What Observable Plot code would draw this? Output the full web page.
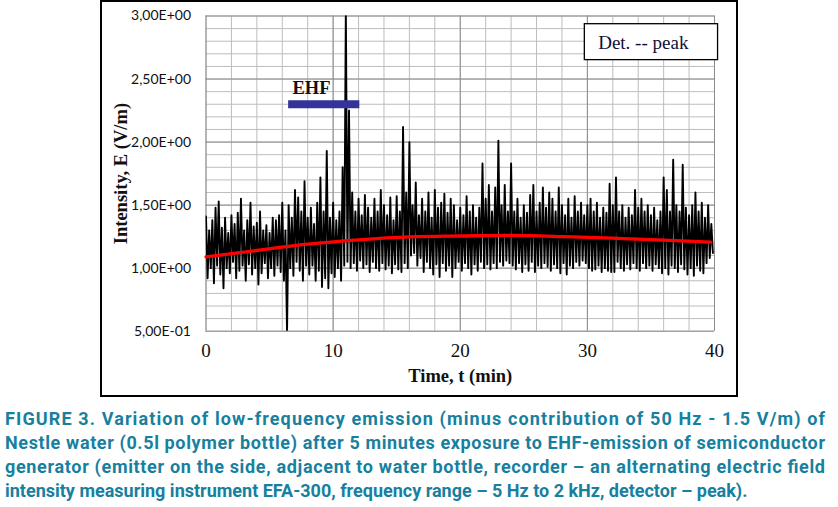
<!DOCTYPE html>
<html><head><meta charset="utf-8">
<script src="https://cdn.jsdelivr.net/npm/d3@7"></script>
<script src="https://cdn.jsdelivr.net/npm/@observablehq/plot@0.6"></script>
<style>
body{margin:0;background:#fff;}
#wrap{position:relative;width:838px;height:507px;}
#frame{position:absolute;left:100px;top:0;width:634px;height:393px;border:2px solid #000;pointer-events:none;}
#cap{position:absolute;left:0;top:400px;}
</style></head><body>
<div id="wrap"><div id="chart"></div><div id="frame"></div><svg id="cap" width="838" height="107"></svg></div>
<script>
// ---- data ----
const timeStep = 0.25; // minutes between samples
// upper excursions of the signal, one per timeStep starting at t=0 (V/m)
const hiValues = [
 1.41,1.30,1.38,1.48,1.53,1.32,1.40,1.28,1.42,1.35,1.44,1.55,1.30,1.38,1.52,1.33,
 1.36,1.45,1.30,1.34,1.28,1.40,1.38,1.42,1.52,1.30,1.50,1.40,1.62,1.56,1.45,1.69,
 1.40,1.48,1.35,1.52,1.72,1.45,1.93,1.40,1.52,1.38,1.45,1.80,3.05,2.25,1.60,1.45,
 1.55,1.42,1.58,1.48,1.40,1.55,1.45,1.62,1.50,1.42,1.56,1.38,1.57,1.45,2.12,1.60,
 2.00,1.50,1.68,1.42,1.55,1.45,1.60,1.40,1.62,1.48,1.52,1.59,1.44,1.55,1.50,1.38,
 1.48,1.42,1.57,1.45,1.50,1.40,1.48,1.83,1.55,1.66,1.45,1.64,2.01,1.50,1.66,1.45,
 1.83,1.45,1.55,1.40,1.50,1.44,1.58,1.66,1.45,1.52,1.64,1.48,1.60,1.55,1.45,1.64,
 1.50,1.42,1.55,1.40,1.57,1.45,1.52,1.42,1.50,1.55,1.45,1.52,1.40,1.48,1.44,1.67,
 1.50,1.72,1.45,1.50,1.40,1.48,1.42,1.62,1.48,1.55,1.45,1.50,1.42,1.48,1.38,1.45,
 1.72,1.62,1.45,1.86,1.50,1.45,1.82,1.48,1.42,1.50,1.60,1.45,1.52,1.40,1.50,1.35
];
// lower excursions, half a step after each upper one (V/m)
const loValues = [
 0.92,1.00,0.88,1.02,0.95,0.84,1.00,0.96,1.05,0.92,0.98,1.02,0.90,1.03,0.95,1.00,
 0.87,0.96,1.04,0.92,1.00,0.94,1.02,0.97,0.90,0.49,1.00,0.94,1.05,0.98,0.90,1.02,
 0.95,1.02,0.90,0.98,0.85,0.92,0.84,0.96,0.93,1.00,0.90,1.02,1.05,1.00,1.04,0.98,
 1.06,1.00,1.03,0.97,1.05,1.00,0.98,1.04,0.99,1.02,0.96,1.03,0.99,0.97,1.04,1.00,
 1.10,1.12,1.02,1.08,0.97,1.05,1.00,0.95,1.03,0.93,1.04,0.98,1.02,0.93,1.00,1.05,
 0.98,1.04,1.00,0.95,1.03,0.98,1.05,1.00,1.03,0.99,1.04,1.00,1.05,1.02,1.06,1.04,
 1.02,0.99,1.04,0.97,1.03,0.98,1.05,0.97,1.02,1.00,1.04,1.01,0.98,1.03,1.00,0.96,
 1.04,0.95,1.02,1.00,1.05,1.02,1.06,1.04,1.00,0.98,0.99,1.02,0.97,1.00,0.98,0.97,
 0.97,1.05,1.00,0.98,1.03,0.99,1.04,1.00,0.98,1.04,1.00,1.02,0.98,1.03,1.00,0.96,
 1.00,0.95,1.02,1.00,0.97,1.03,0.99,0.95,1.00,0.94,1.02,0.98,0.96,1.04,1.08,1.12
];
// red trend line knots
const trendTimes  = [0, 4, 8, 12, 16, 20, 24, 28, 32, 36, 39.7];
const trendValues = [1.09, 1.14, 1.19, 1.225, 1.248, 1.255, 1.26, 1.25, 1.238, 1.222, 1.206];
// EHF exposure bar
const ehfStart = 6.5, ehfEnd = 12.1, ehfLevel = 2.30;
// axis ticks
const xTicks = [0, 10, 20, 30, 40];
const yTicks = [0.5, 1.0, 1.5, 2.0, 2.5, 3.0];

const series = hiValues.flatMap((h, i) => [
  {t: i * timeStep, v: h},
  {t: i * timeStep + timeStep / 2, v: loValues[i]}
]);
const trend = trendTimes.map((t, i) => ({t, v: trendValues[i]}));

const fmtE = v => {
  const e = Math.floor(Math.log10(v) + 1e-9);
  const m = v / Math.pow(10, e);
  return m.toFixed(2).replace('.', ',') + 'E' + (e < 0 ? '-' : '+') + String(Math.abs(e)).padStart(2, '0');
};

const serif = "'Liberation Serif','Times New Roman',serif";
const sans = "Lato,'Open Sans',sans-serif";

const chart = Plot.plot({
  width: 838, height: 400,
  marginLeft: 205.5, marginRight: 124, marginTop: 15.5, marginBottom: 69.3,
  x: {domain: [0, 40]},
  y: {domain: [0.5, 3.0]},
  style: {background: "transparent", overflow: "visible"},
  marks: [
    Plot.ruleY(d3.range(5, 31).map(d => d / 10), {stroke: "#bdbdbd", strokeWidth: 1}),
    Plot.ruleX(d3.range(0, 41, 2), {stroke: "#bdbdbd", strokeWidth: 1}),
    Plot.ruleY(yTicks, {stroke: "#8c8c8c", strokeWidth: 1}),
    Plot.ruleX([0, 10, 20, 30, 40], {stroke: "#8c8c8c", strokeWidth: 1}),
    Plot.line(series, {x: "t", y: "v", stroke: "#000", strokeWidth: 1.9, clip: true}),
    Plot.line(trend, {x: "t", y: "v", stroke: "#ff0000", strokeWidth: 3.3, curve: "natural"}),
    Plot.ruleY([ehfLevel], {x1: ehfStart, x2: ehfEnd, stroke: "#333399", strokeWidth: 8}),
    Plot.text(["EHF"], {x: ehfStart + 0.3, y: ehfLevel + 0.13, textAnchor: "start", fontFamily: serif, fontWeight: "bold", fontSize: 18.5, fill: "#111"}),
    Plot.rect([{x1: 29.8, x2: 40.28, y1: 2.65, y2: 2.935}], {x1: "x1", x2: "x2", y1: "y1", y2: "y2", fill: "#fff", stroke: "#000", strokeWidth: 1.3}),
    Plot.text(["Det. -- peak"], {x: 30.85, y: 2.79, textAnchor: "start", fontFamily: serif, fontSize: 19, fill: "#10103a"}),
    Plot.axisY(yTicks, {tickFormat: fmtE, tickSize: 0, tickPadding: 15, fontSize: 14, fontFamily: sans, label: null, fill: "#111"}),
    Plot.axisX(xTicks, {tickSize: 0, tickPadding: 12, fontSize: 19, fontFamily: serif, label: null, fill: "#111"}),
    Plot.text(["Intensity, E (V/m)"], {frameAnchor: "left", dx: -85, rotate: -90, textAnchor: "middle", fontFamily: serif, fontWeight: "bold", fontSize: 18.5, fill: "#111"}),
    Plot.text(["Time, t (min)"], {frameAnchor: "bottom", dy: 51, fontFamily: serif, fontWeight: "bold", fontSize: 18.5, fill: "#111"})
  ]
});
document.getElementById("chart").appendChild(chart);

// caption
const capLines = [
  "FIGURE 3. Variation of low-frequency emission (minus contribution of 50 Hz - 1.5 V/m) of",
  "Nestle water (0.5l polymer bottle) after 5 minutes exposure to EHF-emission of semiconductor",
  "generator (emitter on the side, adjacent to water bottle, recorder – an alternating electric field",
  "intensity measuring instrument EFA-300, frequency range – 5 Hz to 2 kHz, detector – peak)."
];
const capWidths = [820, 820, 820, 760];
const cap = d3.select("#cap");
const texts = capLines.map((s, i) => cap.append("text")
  .attr("x", 5).attr("y", 25 + i * 24)
  .attr("fill", "#17809f")
  .style("font-family", "Roboto,'Open Sans',sans-serif")
  .style("font-weight", "bold")
  .style("font-size", "18px")
  .text(s));
// find one font size so every line fits its width
let fs = 18;
texts.forEach((t, i) => {
  const w = t.node().getComputedTextLength();
  fs = Math.min(fs, 18 * capWidths[i] / w * 0.99);
});
texts.forEach((t, i) => {
  t.style("font-size", fs + "px");
  if (i < 3) t.attr("textLength", capWidths[i]).attr("lengthAdjust", "spacing");
});
</script>
</body></html>
